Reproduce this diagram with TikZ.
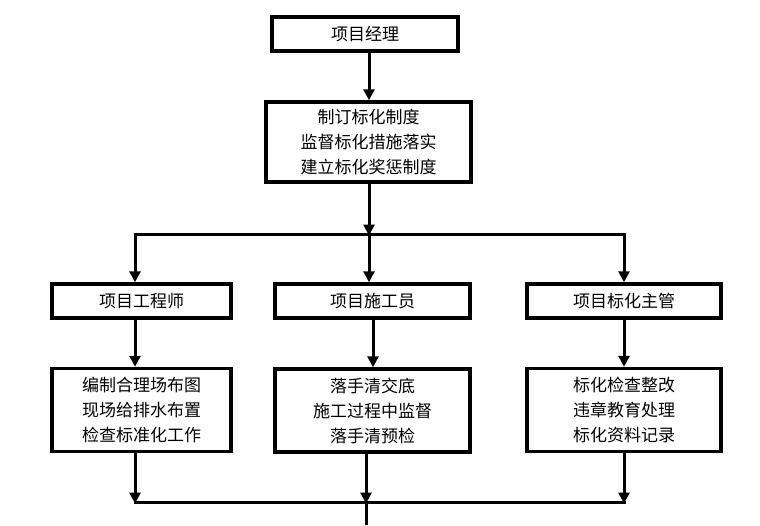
\documentclass[tikz,border=0pt]{standalone}
\usepackage{fontspec}
\newfontfamily\cjk{Noto Sans CJK SC}
\usetikzlibrary{arrows.meta}
\begin{document}
\begin{tikzpicture}[x=1pt,y=-1pt,
  box/.style={draw, line width=3.5pt, inner sep=0pt, align=center,
    font=\cjk\fontsize{17}{25}\selectfont},
  conn/.style={line width=3pt},
  arr/.style={conn, -{Triangle[width=11pt,length=11pt]}}]
\fill[white] (0,0) rectangle (760,525);
\useasboundingbox (0,0) rectangle (760,525);
% boxes
\node[box, minimum width=186pt, minimum height=34pt] (top) at (365,34) {项目经理};
\node[box, minimum width=205pt, minimum height=80pt] (b2) at (368.5,142) {制订标化制度\\监督标化措施落实\\建立标化奖惩制度};
\node[box, minimum width=179pt, minimum height=34pt] (lm) at (141.5,301) {项目工程师};
\node[box, minimum width=195pt, minimum height=34pt] (mm) at (372.5,301) {项目施工员};
\node[box, minimum width=194pt, minimum height=34pt] (rm) at (624,301) {项目标化主管};
\node[box, minimum width=179pt, minimum height=83pt] (ll) at (141.5,410) {编制合理场布图\\现场给排水布置\\检查标准化工作};
\node[box, minimum width=195pt, minimum height=83pt] (ml) at (372.5,410.5) {落手清交底\\施工过程中监督\\落手清预检};
\node[box, minimum width=194pt, minimum height=83pt] (rl) at (624,410) {标化检查整改\\违章教育处理\\标化资料记录};
% coordinates
\coordinate (cT) at (369,0);
\coordinate (cL) at (135,0);
\coordinate (cM2) at (373,0);
\coordinate (cM3) at (366,0);
\coordinate (cR) at (624,0);
\coordinate (busT) at (369,234);
\coordinate (lT) at (135,234);
\coordinate (rT) at (624,234);
\coordinate (lB) at (135,502);
\coordinate (mB) at (366,502);
\coordinate (rB) at (624,502);
\coordinate (out) at (366,525);
% connectors
\draw[arr] (top.south -| cT) -- (b2.north -| cT);
\draw[arr] (b2.south -| cT) -- ([yshift=-1.5pt]busT);
\draw[conn] ([xshift=-1.5pt]lT) -- ([xshift=1.5pt]rT);
\draw[arr] ([yshift=1.5pt]lT) -- (lm.north -| lT);
\draw[arr] ([yshift=1.5pt]busT) -- (mm.north -| busT);
\draw[arr] ([yshift=1.5pt]rT) -- (rm.north -| rT);
\draw[arr] (lm.south -| cL) -- (ll.north -| cL);
\draw[arr] (mm.south -| cM2) -- (ml.north -| cM2);
\draw[arr] (rm.south -| cR) -- (rl.north -| cR);
\draw[arr] (ll.south -| cL) -- ([yshift=-1.5pt]lB);
\draw[arr] (ml.south -| cM3) -- ([yshift=-1.5pt]mB);
\draw[arr] (rl.south -| cR) -- ([yshift=-1.5pt]rB);
\draw[conn] ([xshift=-1.5pt]lB) -- ([xshift=1.5pt]rB);
\draw[conn] ([yshift=-1.5pt]mB) -- (out);
\end{tikzpicture}
\end{document}
